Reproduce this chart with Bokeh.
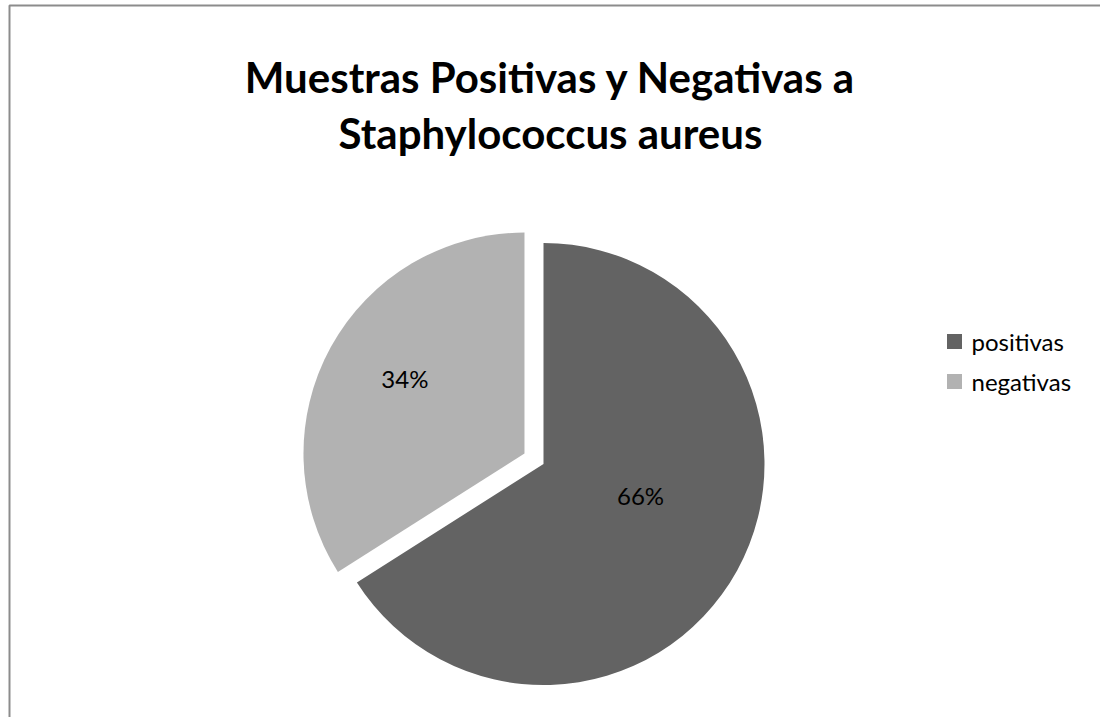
import math
from bokeh.plotting import figure
from bokeh.models import ColumnDataSource, Range1d
from bokeh.core.properties import value
from bokeh.embed import file_html
from bokeh.resources import INLINE

# ---- data ----
categories = ["positivas", "negativas"]
percentages = [66, 34]
labels = ["66%", "34%"]
colors = ["#636363", "#b2b2b2"]

W, H = 1100, 717
FONT = "Lato"

p = figure(width=W, height=H, output_backend="svg", toolbar_location=None,
           x_range=Range1d(0, W), y_range=Range1d(0, H), min_border=0)
p.axis.visible = False
p.grid.visible = False
p.outline_line_color = None
p.background_fill_color = "white"
p.border_fill_color = "white"

def Y(y_top):
    return H - y_top

# chart frame (extends past the window at right/bottom)
p.quad(left=[9], right=[W + 20], top=[Y(5)], bottom=[-20],
       fill_color=None, line_color="#8c8c8c", line_width=2)

# ---- pie geometry ----
cx, cy, R = 543, Y(463.5), 221
explode = [0, 21.7]
label_pos = [(-18.0, 102), (148.0, 141)]  # (angle deg, distance) from slice centre

total = sum(percentages)
start = math.pi / 2
xs, ys, sa, ea, lx, ly = [], [], [], [], [], []
for i, v in enumerate(percentages):
    sweep = 2 * math.pi * v / total
    # positivas goes clockwise from 12 o'clock; negativas fills remainder
    if i == 0:
        s, e = start - sweep, start
    else:
        s, e = start, start + sweep
    mid = (s + e) / 2
    ox = cx + explode[i] * math.cos(mid)
    oy = cy + explode[i] * math.sin(mid)
    xs.append(ox); ys.append(oy); sa.append(s); ea.append(e)
    ang = math.radians(label_pos[i][0])
    lx.append(ox + label_pos[i][1] * math.cos(ang))
    ly.append(oy + label_pos[i][1] * math.sin(ang))

src = ColumnDataSource(dict(x=xs, y=ys, start=sa, end=ea, color=colors,
                            cat=categories, label=labels, lx=lx, ly=ly))
p.wedge(x="x", y="y", radius=R, start_angle="start", end_angle="end",
        fill_color="color", line_color=None, source=src)

p.text(x="lx", y="ly", text="label", source=src, text_align="center",
       text_baseline="middle", text_font=value(FONT), text_font_size="24px",
       text_color="black")

# ---- title ----
p.text(x=[550, 550], y=[Y(76), Y(132)],
       text=["Muestras Positivas y Negativas a", "Staphylococcus aureus"],
       text_align="center", text_baseline="middle", text_font=value(FONT),
       text_font_style="bold", text_font_size="42px", text_color="black")

# ---- legend ----
leg_x = [954, 954]
leg_y = [Y(341), Y(381)]
p.scatter(x=leg_x, y=leg_y, marker="square", size=15, fill_color=colors,
          line_color=None)
p.text(x=[971, 971], y=leg_y, text=categories, text_align="left",
       text_baseline="middle", text_font=value(FONT), text_font_size="24px",
       text_color="black")

open("out.html", "w").write(file_html(p, INLINE))
